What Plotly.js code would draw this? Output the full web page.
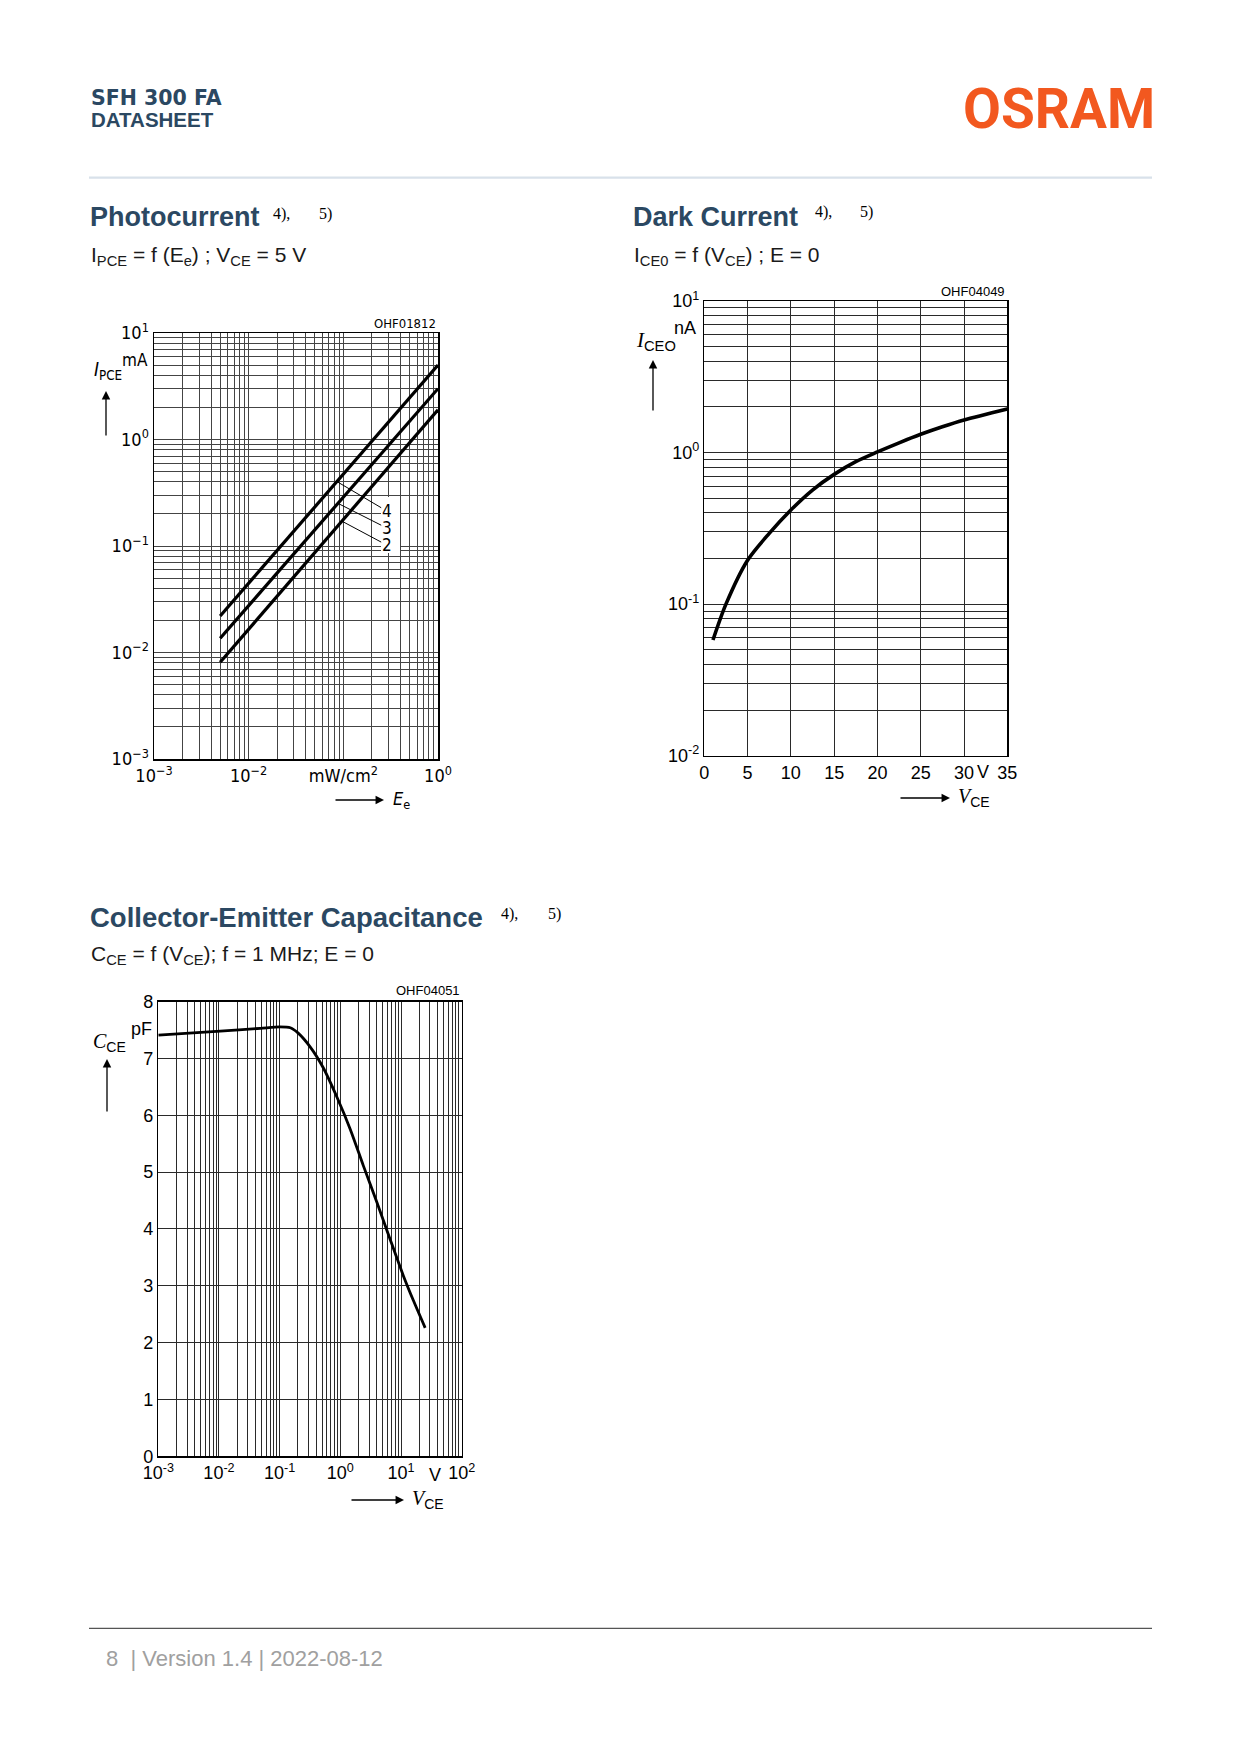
<!DOCTYPE html>
<html>
<head>
<meta charset="utf-8">
<script src="https://cdn.plot.ly/plotly-3.0.1.min.js"></script>
<style>
html,body{margin:0;padding:0;background:#fff;}
#page{width:1240px;height:1754px;}
</style>
</head>
<body>
<div id="page"></div>
<script>
// ---------------- DATA ----------------
// Photocurrent I_PCE (mA) vs irradiance Ee (mW/cm2), curves 2,3,4
const photoEe = [0.005, 1.0];
const photoI4 = [0.022, 5.0];
const photoI3 = [0.0136, 3.0];
const photoI2 = [0.0081, 1.9];
const photoCurveLabels = ['4', '3', '2'];
const photoXTickLabels = ['10<sup>−3</sup>', '10<sup>−2</sup>', 'mW/cm<sup>2</sup>', '10<sup>0</sup>'];
const photoYTickLabels = ['10<sup>−3</sup>', '10<sup>−2</sup>', '10<sup>−1</sup>', '10<sup>0</sup>', '10<sup>1</sup>'];

// Dark current I_CEO (nA) vs V_CE (V)
const darkV = [1, 2.5, 5, 7.5, 10, 12.5, 15, 17.5, 20, 22.5, 25, 27.5, 30, 35];
const darkI = [0.058, 0.1, 0.195, 0.293, 0.418, 0.566, 0.718, 0.871, 1.01, 1.16, 1.32, 1.48, 1.64, 1.94];
const darkXTicks = [0, 5, 10, 15, 20, 25, 30, 35];
const darkXTickLabels = ['0', '5', '10', '15', '20', '25', '30', '35'];
const darkYTickLabels = ['10<sup>-2</sup>', '10<sup>-1</sup>', '10<sup>0</sup>', '10<sup>1</sup>'];

// Collector-emitter capacitance C_CE (pF) vs V_CE (V)
const capV = [0.001, 0.0105, 0.048, 0.1, 0.15, 0.2, 0.32, 0.52, 0.87, 1.45, 2.4, 4.0, 6.6, 11, 16, 25];
const capC = [7.41, 7.48, 7.53, 7.555, 7.54, 7.45, 7.2, 6.84, 6.33, 5.76, 5.11, 4.47, 3.82, 3.17, 2.74, 2.26];
const capXTickLabels = ['10<sup>-3</sup>', '10<sup>-2</sup>', '10<sup>-1</sup>', '10<sup>0</sup>', '10<sup>1</sup>', '10<sup>2</sup>'];
const capYTicks = [0, 1, 2, 3, 4, 5, 6, 7, 8];
const capYTickLabels = ['0', '1', '2', '3', '4', '5', '6', '7', '8'];

// ---------------- HELPERS ----------------
const W = 1240, H = 1754;
const px = v => v / W;
const py = v => 1 - v / H;

function logGrid(lo, hi, labels) {
  const vals = [], text = [];
  for (let d = lo; d < hi; d++) {
    for (let k = 1; k <= 9; k++) {
      vals.push(k * Math.pow(10, d));
      text.push(k === 1 ? labels[d - lo] : '');
    }
  }
  vals.push(Math.pow(10, hi));
  text.push(labels[hi - lo]);
  return {vals, text};
}
function logInterp(xs, ys, x) {
  const lx = xs.map(Math.log10), ly = ys.map(Math.log10), t = Math.log10(x);
  for (let i = 0; i < lx.length - 1; i++) {
    if (t >= lx[i] && t <= lx[i + 1]) {
      return ly[i] + (ly[i + 1] - ly[i]) * (t - lx[i]) / (lx[i + 1] - lx[i]);
    }
  }
  return ly[ly.length - 1];
}

const COND = 'Liberation Sans Narrow, DejaVu Sans Condensed, Arial Narrow, sans-serif';
const ARIAL = 'Liberation Sans, Arial, Helvetica, sans-serif';
const SERIF = 'Liberation Serif, Times New Roman, serif';
const BLUE = '#2b4862';

const pgX = logGrid(-3, 0, photoXTickLabels);
const pgY = logGrid(-3, 1, photoYTickLabels);
const dgY = logGrid(-2, 1, darkYTickLabels);
const cgX = logGrid(-3, 2, capXTickLabels);

function axisBase(extra) {
  return Object.assign({
    showline: true, mirror: true, linecolor: '#000', linewidth: 1.5,
    showgrid: true, gridcolor: '#2a2a2a', gridwidth: 1,
    zeroline: false, ticks: '', fixedrange: true
  }, extra);
}

// ---------------- TRACES ----------------
const lineStyle = w => ({color: '#000', width: w});
const traces = [
  {x: photoEe, y: photoI4, xaxis: 'x', yaxis: 'y', mode: 'lines', line: lineStyle(3.2), hoverinfo: 'skip'},
  {x: photoEe, y: photoI3, xaxis: 'x', yaxis: 'y', mode: 'lines', line: lineStyle(3.2), hoverinfo: 'skip'},
  {x: photoEe, y: photoI2, xaxis: 'x', yaxis: 'y', mode: 'lines', line: lineStyle(3.2), hoverinfo: 'skip'},
  {x: darkV, y: darkI, xaxis: 'x2', yaxis: 'y2', mode: 'lines', line: Object.assign(lineStyle(3.6), {shape: 'spline', smoothing: 0.8}), hoverinfo: 'skip'},
  {x: capV, y: capC, xaxis: 'x3', yaxis: 'y3', mode: 'lines', line: Object.assign(lineStyle(2.8), {shape: 'spline', smoothing: 0.7}), hoverinfo: 'skip'}
];

// ---------------- ANNOTATIONS ----------------
const ann = [];
function T(text, x, y, opts) {
  ann.push(Object.assign({
    text: text, xref: 'paper', yref: 'paper', x: px(x), y: py(y),
    xanchor: 'left', yanchor: 'middle', showarrow: false,
    font: {family: ARIAL, size: 18, color: '#000'}
  }, opts || {}));
}
function ARROW(hx, hy, tx, ty) {
  ann.push({
    text: '', xref: 'paper', yref: 'paper', x: px(hx), y: py(hy),
    ax: tx - hx, ay: ty - hy, showarrow: true,
    arrowhead: 2, arrowsize: 1.3, arrowwidth: 1.3, arrowcolor: '#000', standoff: 0, startstandoff: 0
  });
}

// Header
T('<b>SFH 300 FA</b>', 89, 97.5, {font: {family: 'DejaVu Sans, ' + ARIAL, size: 20.5, color: BLUE}});
T('<b>DATASHEET</b>', 89, 119.5, {font: {family: ARIAL, size: 20.5, color: BLUE}});
T('<b>OSRAM</b>', 1157, 108.5, {xanchor: 'right', font: {family: 'Roboto, ' + ARIAL, size: 55, color: '#f2581f'}});

// Section titles
T('<b>Photocurrent</b>', 88, 217, {font: {family: ARIAL, size: 27, color: BLUE}});
T('4),', 271, 214, {font: {family: SERIF, size: 16, color: '#000'}});
T('5)', 317, 214, {font: {family: SERIF, size: 16, color: '#000'}});
T('I<sub>PCE</sub> = f (E<sub>e</sub>) ; V<sub>CE</sub> = 5 V', 89, 256, {font: {family: ARIAL, size: 21, color: '#1a1a1a'}});

T('<b>Dark Current</b>', 631, 217, {font: {family: ARIAL, size: 27, color: BLUE}});
T('4),', 813, 212, {font: {family: SERIF, size: 16, color: '#000'}});
T('5)', 858, 212, {font: {family: SERIF, size: 16, color: '#000'}});
T('I<sub>CE0</sub> = f (V<sub>CE</sub>) ; E = 0', 632, 256, {font: {family: ARIAL, size: 21, color: '#1a1a1a'}});

T('<b>Collector-Emitter Capacitance</b>', 88, 917, {font: {family: ARIAL, size: 27.5, color: BLUE}});
T('4),', 499, 914, {font: {family: SERIF, size: 16, color: '#000'}});
T('5)', 546, 914, {font: {family: SERIF, size: 16, color: '#000'}});
T('C<sub>CE</sub> = f (V<sub>CE</sub>); f = 1 MHz; E = 0', 89, 955, {font: {family: ARIAL, size: 21, color: '#1a1a1a'}});

// Photocurrent chart labels
T('OHF01812', 438, 323, {xanchor: 'right', font: {family: COND, size: 13, color: '#000'}});
T('mA', 120, 360, {font: {family: COND, size: 17, color: '#000'}});
T('<i>I</i><sub>PCE</sub>', 92, 371, {font: {family: COND, size: 19, color: '#000'}});
ARROW(106, 391, 106, 437);
ARROW(384, 800, 334, 800);
T('<i>E</i><sub>e</sub>', 391, 800, {font: {family: COND, size: 18, color: '#000'}});

// Curve leader lines 4/3/2
const leaderEe = [0.0855, 0.0877, 0.0966];
const leaderSeries = [photoI4, photoI3, photoI2];
const leaderLabelPos = [[-0.542, -0.671], [-0.542, -0.831], [-0.542, -0.991]];
for (let i = 0; i < 3; i++) {
  ann.push({
    text: photoCurveLabels[i], xref: 'x', yref: 'y', axref: 'x', ayref: 'y',
    x: Math.log10(leaderEe[i]), y: logInterp(photoEe, leaderSeries[i], leaderEe[i]),
    ax: leaderLabelPos[i][0], ay: leaderLabelPos[i][1],
    showarrow: true, arrowhead: 0, arrowwidth: 1, arrowcolor: '#000', standoff: 0,
    borderpad: 0, font: {family: COND, size: 17, color: '#000'}
  });
}

// Dark current chart labels
T('OHF04049', 1007, 291, {xanchor: 'right', font: {family: ARIAL, size: 13, color: '#000'}});
T('nA', 672, 328, {font: {family: ARIAL, size: 18, color: '#000'}});
T('<span style="font-family:Liberation Serif,serif"><i>I</i></span><sub>CEO</sub>', 634, 341, {font: {family: ARIAL, size: 21, color: '#000'}});
ARROW(653, 360, 653, 412);
T('V', 983, 772, {xanchor: 'center', font: {family: ARIAL, size: 18, color: '#000'}});
ARROW(950, 798, 899, 798);
T('<span style="font-family:Liberation Serif,serif"><i>V</i></span><sub>CE</sub>', 956, 797, {font: {family: ARIAL, size: 20, color: '#000'}});

// Capacitance chart labels
T('OHF04051', 462, 990, {xanchor: 'right', font: {family: ARIAL, size: 13, color: '#000'}});
T('pF', 129, 1029, {font: {family: ARIAL, size: 18, color: '#000'}});
T('<span style="font-family:Liberation Serif,serif"><i>C</i></span><sub>CE</sub>', 91, 1042, {font: {family: ARIAL, size: 20, color: '#000'}});
ARROW(107, 1059, 107, 1113);
T('V', 435, 1475, {xanchor: 'center', font: {family: ARIAL, size: 18, color: '#000'}});
ARROW(404, 1500, 350, 1500);
T('<span style="font-family:Liberation Serif,serif"><i>V</i></span><sub>CE</sub>', 410, 1499, {font: {family: ARIAL, size: 20, color: '#000'}});

// Footer
T('8  | Version 1.4 | 2022-08-12', 104, 1658.5, {font: {family: ARIAL, size: 22, color: '#a0a0a0'}});

// ---------------- SHAPES ----------------
const shapes = [
  {type: 'line', xref: 'paper', yref: 'paper', x0: px(89), x1: px(1152), y0: py(177.7), y1: py(177.7), line: {color: '#d8e1ea', width: 2.2}},
  {type: 'line', xref: 'paper', yref: 'paper', x0: px(89), x1: px(1152), y0: py(1628.3), y1: py(1628.3), line: {color: '#555', width: 1.2}},
  {type: 'rect', xref: 'paper', yref: 'paper', x0: px(381), x1: px(400), y0: py(553), y1: py(497), fillcolor: '#fff', line: {width: 0}, layer: 'above'}
];

// ---------------- LAYOUT ----------------
const layout = {
  width: W, height: H, margin: {l: 0, r: 0, t: 0, b: 0},
  paper_bgcolor: '#fff', plot_bgcolor: '#fff', showlegend: false,
  xaxis: axisBase({type: 'log', range: [-3, 0], domain: [px(154), px(438)], anchor: 'y',
    tickmode: 'array', tickvals: pgX.vals, ticktext: pgX.text, gridcolor: '#444',
    tickfont: {family: COND, size: 18, color: '#000'}}),
  yaxis: axisBase({type: 'log', range: [-3, 1], domain: [py(759), py(333)], anchor: 'x',
    tickmode: 'array', tickvals: pgY.vals, ticktext: pgY.text, gridcolor: '#444',
    tickfont: {family: COND, size: 18, color: '#000'}}),
  xaxis2: axisBase({type: 'linear', range: [0, 35], domain: [px(704.3), px(1007.3)], anchor: 'y2',
    tickmode: 'array', tickvals: darkXTicks, ticktext: darkXTickLabels,
    tickfont: {family: ARIAL, size: 18, color: '#000'}}),
  yaxis2: axisBase({type: 'log', range: [-2, 1], domain: [py(755.7), py(301)], anchor: 'x2',
    tickmode: 'array', tickvals: dgY.vals, ticktext: dgY.text,
    tickfont: {family: ARIAL, size: 18, color: '#000'}}),
  xaxis3: axisBase({type: 'log', range: [-3, 2], domain: [px(158.3), px(461.7)], anchor: 'y3',
    tickmode: 'array', tickvals: cgX.vals, ticktext: cgX.text,
    tickfont: {family: ARIAL, size: 18, color: '#000'}}),
  yaxis3: axisBase({type: 'linear', range: [0, 8], domain: [py(1456.3), py(1001.6)], anchor: 'x3',
    tickmode: 'array', tickvals: capYTicks, ticktext: capYTickLabels,
    tickfont: {family: ARIAL, size: 18, color: '#000'}}),
  annotations: ann,
  shapes: shapes
};

Plotly.newPlot('page', traces, layout, {staticPlot: true, displayModeBar: false});
</script>
</body>
</html>
